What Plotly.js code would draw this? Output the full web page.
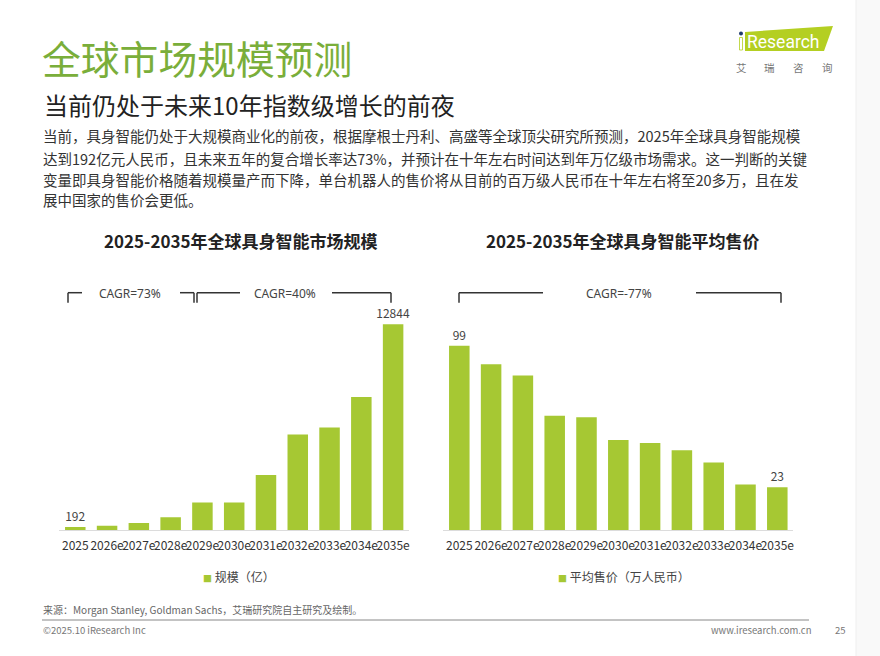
<!DOCTYPE html>
<html>
<head>
<meta charset="utf-8">
<script src="https://cdn.plot.ly/plotly-3.0.1.min.js"></script>
<style>
html,body{margin:0;padding:0;background:#fff;}
#chart{width:880px;height:656px;}
</style>
</head>
<body>
<div id="chart"></div>
<script>
// ---- data ----
var years = ["2025","2026e","2027e","2028e","2029e","2030e","2031e","2032e","2033e","2034e","2035e"];
var marketSize = [192, 270, 440, 790, 1720, 1720, 3430, 5970, 6400, 8300, 12844];
var avgPrice = [99, 89, 83, 61.4, 60.5, 48.3, 46.7, 42.8, 36.2, 24.5, 23];
var marketName = "规模（亿）";
var priceName = "平均售价（万人民币）";
var leftTitle = "2025-2035年全球具身智能市场规模";
var rightTitle = "2025-2035年全球具身智能平均售价";
var cagrLabels = ["CAGR=73%", "CAGR=40%", "CAGR=-77%"];
var pageTitle = "全球市场规模预测";
var subTitle = "当前仍处于未来10年指数级增长的前夜";
var bodyLines = [
  "当前，具身智能仍处于大规模商业化的前夜，根据摩根士丹利、高盛等全球顶尖研究所预测，2025年全球具身智能规模",
  "达到192亿元人民币，且未来五年的复合增长率达73%，并预计在十年左右时间达到年万亿级市场需求。这一判断的关键",
  "变量即具身智能价格随着规模量产而下降，单台机器人的售价将从目前的百万级人民币在十年左右将至20多万，且在发",
  "展中国家的售价会更低。"
];
var sourceText = "来源：Morgan Stanley, Goldman Sachs，艾瑞研究院自主研究及绘制。";
var copyrightText = "©2025.10 iResearch Inc";
var siteText = "www.iresearch.com.cn";
var pageNum = "25";
var logoText = "Research";
var logoSub = ["艾", "瑞", "咨", "询"];

// ---- helpers ----
var W = 880, H = 656;
function X(px){ return px / W; }
function Y(py){ return 1 - py / H; }
var CJK = '"Noto Sans CJK SC", "Noto Sans", sans-serif';
var BAR = '#a6c833';
function endLabels(arr){
  return arr.map(function(v,i){ return (i === 0 || i === arr.length-1) ? String(v) : ''; });
}

var traces = [
  {type:'bar', x:years, y:marketSize, xaxis:'x', yaxis:'y', name:marketName,
   marker:{color:BAR}, text:endLabels(marketSize), textposition:'outside', cliponaxis:false, constraintext:'none',
   textfont:{family:CJK, size:12, color:'#444'}, showlegend:false, hoverinfo:'x+y'},
  {type:'bar', x:years, y:avgPrice, xaxis:'x2', yaxis:'y2', name:priceName,
   marker:{color:BAR}, text:endLabels(avgPrice), textposition:'outside', cliponaxis:false, constraintext:'none',
   textfont:{family:CJK, size:12, color:'#444'}, showlegend:false, hoverinfo:'x+y'}
];

var yDom = [Y(530), Y(290)];
var axisCommon = {type:'category', showgrid:false, zeroline:false, showline:true, linecolor:'#dcdcdc', linewidth:1,
  ticks:'', ticklabelstandoff:5, tickfont:{family:CJK, size:12, color:'#333'}, tickangle:0, fixedrange:true};
var layout = {
  width:W, height:H, margin:{l:0,r:0,t:0,b:0}, paper_bgcolor:'#fff', plot_bgcolor:'rgba(0,0,0,0)',
  bargap:0.355, showlegend:false,
  xaxis: Object.assign({}, axisCommon, {domain:[X(59.4), X(409)], anchor:'y'}),
  yaxis: {domain:yDom, range:[0, 14985], visible:false, fixedrange:true, anchor:'x'},
  xaxis2: Object.assign({}, axisCommon, {domain:[X(443.4), X(793.2)], anchor:'y2'}),
  yaxis2: {domain:yDom, range:[0, 128.9], visible:false, fixedrange:true, anchor:'x2'},
  shapes: [],
  annotations: []
};

function ann(text, xpx, ypx, opts){
  var a = Object.assign({text:text, x:X(xpx), y:Y(ypx), xref:'paper', yref:'paper', showarrow:false,
    xanchor:'left', yanchor:'middle', font:{family:CJK, size:12, color:'#333'}}, opts || {});
  layout.annotations.push(a);
}
function line(x0,y0,x1,y1,color,width){
  layout.shapes.push({type:'line', xref:'paper', yref:'paper', x0:X(x0), y0:Y(y0), x1:X(x1), y1:Y(y1),
    line:{color:color||'#333', width:width||1.5}});
}

// page right strip
layout.shapes.push({type:'rect', xref:'paper', yref:'paper', x0:X(856), x1:1, y0:0, y1:1,
  fillcolor:'#f9f9f9', line:{width:0}, layer:'below'});
line(856,0,856,656,'#efefef',1);

// title block
ann(pageTitle, 40, 57, {font:{family:CJK, size:38.8, color:'#7aae3a'}});
ann(subTitle, 42, 105, {font:{family:CJK, size:24, color:'#222'}});
var bodyY = [136, 158, 179, 199];
bodyLines.forEach(function(t,i){ ann(t, 41, bodyY[i], {font:{family:CJK, size:14.5, color:'#333'}}); });

// logo
var lp = [[745,32],[833,26],[824,51],[745,51]];
layout.shapes.push({type:'path', xref:'paper', yref:'paper',
  path:'M'+lp.map(function(p){return X(p[0])+','+Y(p[1]);}).join(' L')+' Z',
  fillcolor:'#b4cf22', line:{width:0}});
// "i" stem and dot
layout.shapes.push({type:'rect', xref:'paper', yref:'paper', x0:X(739.5), x1:X(742.5), y0:Y(50), y1:Y(37.5), fillcolor:'#ffffff', line:{color:'#b4cf22', width:0.8}});
layout.shapes.push({type:'circle', xref:'paper', yref:'paper', x0:X(739), x1:X(743), y0:Y(35.5), y1:Y(31.5), fillcolor:'#1f3a6e', line:{width:0}});
ann(logoText, 745, 42, {font:{family:'Roboto, "Open Sans", sans-serif', size:17.5, color:'#fff'}});
var subX = [741, 769, 798, 827];
logoSub.forEach(function(c,i){ ann(c, subX[i], 67, {xanchor:'center', font:{family:CJK, size:10.5, color:'#777'}}); });

// chart titles
ann('<b>'+leftTitle+'</b>', 241, 240, {xanchor:'center', font:{family:CJK, size:17, color:'#222'}});
ann('<b>'+rightTitle+'</b>', 623, 240, {xanchor:'center', font:{family:CJK, size:17, color:'#222'}});

// CAGR brackets
var bY = 292.7, bD = 302.7, bc = '#333';
var cf = {family:'"Noto Sans", sans-serif', size:12, color:'#444'};
line(68,bY,82,bY,bc); line(68,bY,68,bD,bc); line(180,bY,194,bY,bc); line(194,bY,194,bD,bc);
ann(cagrLabels[0], 130, 293, {xanchor:'center', font:cf});
line(197,bY,240,bY,bc); line(197,bY,197,bD,bc); line(332,bY,391,bY,bc); line(391,bY,391,bD,bc);
ann(cagrLabels[1], 285, 293, {xanchor:'center', font:cf});
line(459,bY,543,bY,bc); line(459,bY,459,bD,bc); line(696,bY,781,bY,bc); line(781,bY,781,bD,bc);
ann(cagrLabels[2], 619, 293, {xanchor:'center', font:cf});

// legends
var sq = '<span style="color:'+BAR+';font-size:9px">■</span> ';
ann(sq+marketName, 201, 576, {font:{family:CJK, size:12, color:'#444'}});
ann(sq+priceName, 556, 576, {font:{family:CJK, size:12, color:'#444'}});

// footer
ann(sourceText, 41, 609, {font:{family:CJK, size:10, color:'#666'}});
line(42,620,809,620,'#888',1);
ann(copyrightText, 41, 630, {font:{family:CJK, size:9.5, color:'#777'}});
ann(siteText, 813, 630, {xanchor:'right', font:{family:CJK, size:9.5, color:'#777'}});
ann(pageNum, 840, 630, {xanchor:'center', font:{family:CJK, size:9.5, color:'#777'}});

Plotly.newPlot('chart', traces, layout, {displayModeBar:false, staticPlot:true});
</script>
</body>
</html>
